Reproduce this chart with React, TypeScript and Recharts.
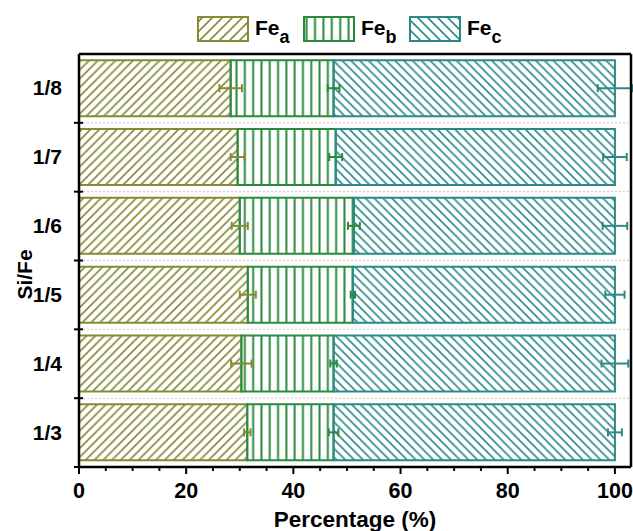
import React from 'react';
import { BarChart, Bar, XAxis, YAxis, ErrorBar, Legend, ReferenceLine } from 'recharts';

// ---- data ----
const categories = ['1/8', '1/7', '1/6', '1/5', '1/4', '1/3'];
const feA = [28.3, 29.6, 30.0, 31.5, 30.3, 31.4];
const feB = [19.2, 18.3, 21.3, 19.6, 17.2, 16.1];
const feC = [52.5, 52.1, 48.7, 48.9, 52.5, 52.5];
const errA = [2.1, 1.3, 1.5, 1.5, 1.9, 0.6];
const errB = [1.1, 1.2, 1.1, 0.4, 0.6, 0.9];
const errC = [3.2, 2.2, 2.3, 1.8, 2.5, 1.3];
const xTicks = [0, 5, 10, 15, 20, 25, 30, 35, 40, 45, 50, 55, 60, 65, 70, 75, 80, 85, 90, 95, 100];
const xMajor = [0, 20, 40, 60, 80, 100];
const xMax = 103;

const data = categories.map((name, i) => ({
  name,
  a: feA[i],
  b: feB[i],
  c: feC[i],
  errA: errA[i],
  errB: errB[i],
  errC: errC[i],
}));

// ---- styles ----
const OLIVE = '#868a35';
const GREEN = '#2a8a3e';
const TEAL = '#2b8a88';
const FONT = '"Liberation Sans", Arial, Helvetica, sans-serif';
const W = 633;
const H = 531;
const MARGIN = { top: 10, right: 2, bottom: 0, left: 0 };
const LEGEND_H = 44;
const Y_AXIS_W = 79;
const X_AXIS_H = 64;
const PLOT_TOP = MARGIN.top + LEGEND_H;
const PLOT_BOTTOM = H - MARGIN.bottom - X_AXIS_H;
const BAND = (PLOT_BOTTOM - PLOT_TOP) / categories.length;

const series = [
  { key: 'a', sub: 'a', color: OLIVE, pat: 'A' },
  { key: 'b', sub: 'b', color: GREEN, pat: 'B' },
  { key: 'c', sub: 'c', color: TEAL, pat: 'C' },
];

const Patterns = ({ prefix, diag, vert }: { prefix: string; diag: number; vert: number }) => (
  <defs>
    <pattern id={`${prefix}A`} patternUnits="userSpaceOnUse" width={diag} height={diag}>
      <path
        d={`M0,${diag} L${diag},0 M${-diag / 2},${diag / 2} L${diag / 2},${-diag / 2} M${diag / 2},${diag * 1.5} L${diag * 1.5},${diag / 2}`}
        stroke={OLIVE}
        strokeWidth={1.6}
      />
    </pattern>
    <pattern id={`${prefix}B`} patternUnits="userSpaceOnUse" width={vert} height={10}>
      <line x1={vert / 2} x2={vert / 2} y1={0} y2={10} stroke={GREEN} strokeWidth={2} />
    </pattern>
    <pattern id={`${prefix}C`} patternUnits="userSpaceOnUse" width={diag} height={diag}>
      <path
        d={`M0,0 L${diag},${diag} M${-diag / 2},${diag / 2} L${diag / 2},${diag * 1.5} M${diag / 2},${-diag / 2} L${diag * 1.5},${diag / 2}`}
        stroke={TEAL}
        strokeWidth={1.6}
      />
    </pattern>
  </defs>
);

const renderLegend = () => (
  <svg width={W} height={LEGEND_H} style={{ display: 'block' }}>
    <Patterns prefix="leg" diag={10} vert={8.4} />
    {series.map((s, i) => {
      const x = 197 + i * 106;
      return (
        <g key={s.key}>
          <rect x={x + 1} y={7} width={50} height={24} fill={`url(#leg${s.pat})`} stroke={s.color} strokeWidth={2} />
          <text x={x + 58} y={25} fontSize={21} fontWeight={700} fontFamily={FONT} fill="#000">
            Fe
            <tspan dy={8} fontSize={18}>
              {s.sub}
            </tspan>
          </text>
        </g>
      );
    })}
  </svg>
);

const XTick = (props: any) => {
  const { x, y, payload } = props;
  const major = xMajor.includes(payload.value);
  return (
    <g>
      <line x1={x} x2={x} y1={y} y2={y + (major ? 7 : 4)} stroke="#000" strokeWidth={2} />
      {major && (
        <text x={x} y={y + 31} textAnchor="middle" fontSize={21.5} fontWeight={700} fontFamily={FONT} fill="#000">
          {payload.value}
        </text>
      )}
    </g>
  );
};

const YTick = (props: any) => {
  const { x, y, payload } = props;
  const by = y + BAND / 2;
  return (
    <g>
      <text x={x - 17} y={y + 7} textAnchor="end" fontSize={21} fontWeight={700} fontFamily={FONT} fill="#000">
        {payload.value}
      </text>
      <line x1={x - 5} x2={x + 4} y1={by} y2={by} stroke="#000" strokeWidth={2} />
    </g>
  );
};

const YTitle = () => {
  const cx = 32;
  const cy = PLOT_TOP + (PLOT_BOTTOM - PLOT_TOP) / 2 + 14;
  return (
    <text
      transform={`translate(${cx},${cy}) rotate(-90)`}
      x={0}
      y={0}
      textAnchor="middle"
      fontSize={21}
      fontWeight={700}
      fontFamily={FONT}
      fill="#000"
    >
      Si/Fe
    </text>
  );
};

export default function App() {
  return (
    <div style={{ position: 'absolute', left: 0, top: 0, width: W, height: H, background: '#fff' }}>
      <BarChart
        width={W}
        height={H}
        data={data}
        layout="vertical"
        margin={MARGIN}
        barCategoryGap="9%"
      >
        <Patterns prefix="bar" diag={8.8} vert={8.3} />
        <Legend
          verticalAlign="top"
          align="left"
          content={renderLegend}
          wrapperStyle={{ top: MARGIN.top, left: 0, width: W, height: LEGEND_H }}
        />
        <XAxis
          type="number"
          domain={[0, xMax]}
          ticks={xTicks}
          interval={0}
          allowDataOverflow
          tickLine={false}
          tickSize={0}
          tickMargin={0}
          tick={<XTick />}
          height={X_AXIS_H}
          axisLine={{ stroke: '#000', strokeWidth: 2.5 }}
          label={{
            value: 'Percentage (%)',
            position: 'insideBottom',
            offset: 4,
            style: { fontSize: 22.5, fontWeight: 700, fontFamily: FONT, fill: '#000' },
          }}
        />
        <YAxis
          type="category"
          dataKey="name"
          width={Y_AXIS_W}
          interval={0}
          tickLine={false}
          tickSize={0}
          tickMargin={0}
          tick={<YTick />}
          axisLine={{ stroke: '#000', strokeWidth: 2.5 }}
        />
        <YTitle />
        {categories.slice(0, categories.length - 1).map((c) => (
          <ReferenceLine
            key={`grid-${c}`}
            y={c}
            position="end"
            stroke="#c8c8c8"
            strokeWidth={1}
            strokeDasharray="2 2"
          />
        ))}
        <Bar dataKey="a" stackId="s" fill="url(#barA)" stroke={OLIVE} strokeWidth={2} isAnimationActive={false}>
          <ErrorBar dataKey="errA" direction="x" width={4} stroke={OLIVE} strokeWidth={2} />
        </Bar>
        <Bar dataKey="b" stackId="s" fill="url(#barB)" stroke={GREEN} strokeWidth={2} isAnimationActive={false}>
          <ErrorBar dataKey="errB" direction="x" width={4} stroke={GREEN} strokeWidth={2} />
        </Bar>
        <Bar dataKey="c" stackId="s" fill="url(#barC)" stroke={TEAL} strokeWidth={2} isAnimationActive={false}>
          <ErrorBar dataKey="errC" direction="x" width={4} stroke={TEAL} strokeWidth={2} />
        </Bar>
        <ReferenceLine y={categories[0]} position="start" stroke="#000" strokeWidth={2.5} ifOverflow="visible" />
        <ReferenceLine x={xMax} stroke="#000" strokeWidth={2.5} ifOverflow="visible" />
      </BarChart>
    </div>
  );
}
